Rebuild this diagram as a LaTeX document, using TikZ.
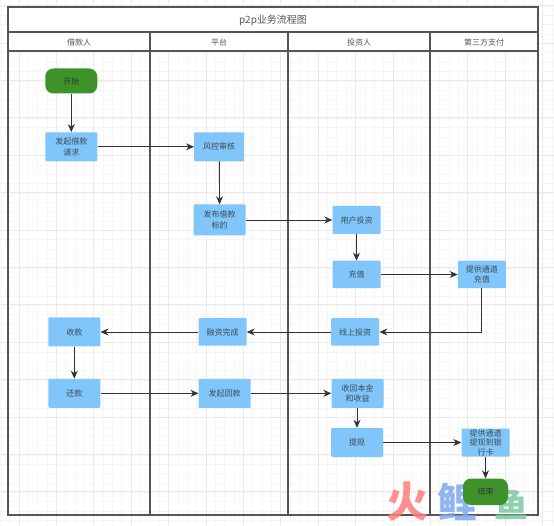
\documentclass[tikz,border=0pt]{standalone}
\usepackage{fontspec}
\setmainfont{Noto Sans CJK SC}
\usetikzlibrary{arrows.meta}
\definecolor{light}{RGB}{128, 198, 250}
\definecolor{mid}{RGB}{62, 146, 42}
\definecolor{dark}{RGB}{85, 85, 85}
\definecolor{ink}{RGB}{51, 51, 51}
\definecolor{gridfine}{RGB}{246, 246, 246}
\definecolor{gridbold}{RGB}{234, 234, 234}
\definecolor{markred}{RGB}{255, 125, 125}
\definecolor{markblue}{RGB}{125, 170, 240}
\definecolor{markgreen}{RGB}{125, 200, 160}
\tikzset{
  stepbox/.style={fill=light, rounded corners=1, inner sep=0, align=center, text=ink!85!light,
    font=\fontsize{8}{10.5}\selectfont},
  endbox/.style={fill=mid, rounded corners=8, inner sep=0, text=ink, font=\fontsize{8}{10}\selectfont},
  lane/.style={dark, line width=1.1},
  flow/.style={-{Stealth[length=8, width=7]}, ink, line width=0.9},
  lanetext/.style={text=dark, font=\fontsize{8}{10}\selectfont},
  marktext/.style={opacity=0.85, inner sep=0, font=\fontsize{42}{42}\selectfont\bfseries}
}
\begin{document}
\begin{tikzpicture}[x=1pt, y=-1pt]
  \useasboundingbox (0, 0) rectangle (554, 526);
  \fill[white] (0, 0) rectangle (554, 526);

  % grid
  \foreach \i in {0, ..., 60} {
    \draw[gridfine, line width=0.5] ({0.1 + 9.35*\i}, 0) -- ({0.1 + 9.35*\i}, 526);
    \draw[gridfine, line width=0.5] (0, {-3.35 + 9.35*\i}) -- (554, {-3.35 + 9.35*\i});
  }
  \foreach \i in {0, ..., 15} {
    \draw[gridbold, line width=0.5] ({18.8 + 37.4*\i}, 0) -- ({18.8 + 37.4*\i}, 526);
    \draw[gridbold, line width=0.5] (0, {5.4 + 37.4*\i}) -- (554, {5.4 + 37.4*\i});
  }

  % lanes
  \fill[white] (8, 7) rectangle (538, 51);
  \draw[lane] (8, 7) rectangle (538, 515);
  \draw[lane] (8, 32) -- (538, 32);
  \draw[lane] (8, 51) -- (538, 51);
  \draw[lane] (150, 32) -- (150, 515);
  \draw[lane] (288, 32) -- (288, 515);
  \draw[lane] (430, 32) -- (430, 515);

  \node[lanetext, font=\fontsize{10}{12}\selectfont] (title) at (273, 20) {p2p业务流程图};
  \node[lanetext] (borrower) at (79, 42) {借款人};
  \node[lanetext] (platform) at (219, 42) {平台};
  \node[lanetext] (investor) at (359, 42) {投资人};
  \node[lanetext] (payment) at (484, 42) {第三方支付};

  % watermark
  \node[marktext, text=markred] (mark1) at (407.5, 502) {火};
  \node[marktext, text=markblue, font=\fontsize{40}{40}\selectfont\bfseries] (mark2) at (457, 502) {鲤};
  \node[marktext, text=markgreen, font=\fontsize{34}{34}\selectfont\bfseries] (mark3) at (511, 504) {鱼};

  % steps
  \node[endbox, minimum width=52, minimum height=25] (start) at (71.3, 81) {开始};
  \node[stepbox, minimum width=52, minimum height=29] (request) at (71.3, 146.8) {发起借款\\请求};
  \node[stepbox, minimum width=50, minimum height=29] (review) at (219.2, 146.8) {风控审核};
  \node[stepbox, minimum width=52, minimum height=31] (publish) at (219.7, 220) {发布借款\\标的};
  \node[stepbox, minimum width=48, minimum height=28] (invest) at (356.5, 220) {用户投资};
  \node[stepbox, minimum width=48, minimum height=27.5] (recharge) at (356.5, 274.5) {充值};
  \node[stepbox, minimum width=48, minimum height=27.5] (channel) at (481.8, 274.5) {提供通道\\充值};
  \node[stepbox, minimum width=48, minimum height=27.5] (online) at (355.2, 332) {线上投资};
  \node[stepbox, minimum width=48, minimum height=27.5] (funded) at (222.5, 332) {融资完成};
  \node[stepbox, minimum width=52, minimum height=29] (receive) at (74.3, 332) {收款};
  \node[stepbox, minimum width=52, minimum height=29] (repay) at (74.3, 393.3) {还款};
  \node[stepbox, minimum width=52, minimum height=29] (payback) at (224.7, 393.3) {发起回款};
  \node[stepbox, minimum width=52, minimum height=29] (income) at (357.5, 393.3) {收回本金\\和收益};
  \node[stepbox, minimum width=52, minimum height=29] (cash) at (357, 442.5) {提现};
  \node[stepbox, minimum width=48, minimum height=28, font=\fontsize{8}{9.5}\selectfont] (bank) at (485.5, 442.5) {提供通道\\提现到银\\行卡};
  \node[endbox, minimum width=45, minimum height=26.5] (end) at (485.5, 491.8) {结束};

  % flows
  \draw[flow] (start) -- (request);
  \draw[flow] (request) -- (review);
  \draw[flow] (review) -- (publish);
  \draw[flow] (publish) -- (invest);
  \draw[flow] (invest) -- (recharge);
  \draw[flow] (recharge) -- (channel);
  \draw[flow] (channel) |- (online);
  \draw[flow] (online) -- (funded);
  \draw[flow] (funded) -- (receive);
  \draw[flow] (receive) -- (repay);
  \draw[flow] (repay) -- (payback);
  \draw[flow] (payback) -- (income);
  \draw[flow] (income.south -| cash) -- (cash);
  \draw[flow] (cash) -- (bank);
  \draw[flow] (bank) -- (end);
\end{tikzpicture}
\end{document}
